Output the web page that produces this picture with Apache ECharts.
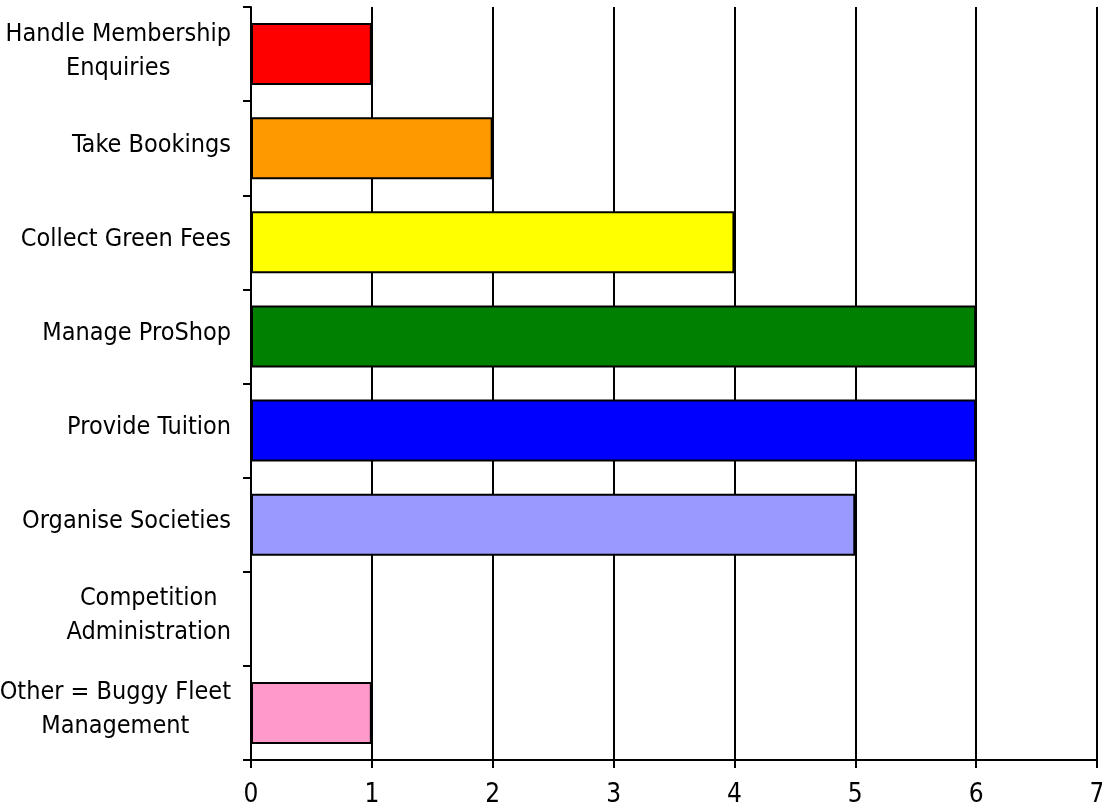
<!DOCTYPE html>
<html>
<head>
<meta charset="utf-8">
<script src="https://cdn.jsdelivr.net/npm/echarts@6/dist/echarts.min.js"></script>
<style>
  html, body { margin: 0; padding: 0; background: #ffffff; }
  #chart { width: 1102px; height: 805px; }
</style>
</head>
<body>
<div id="chart"></div>
<script>
// Activities, top to bottom
const categories = [
  'Handle Membership\nEnquiries',
  'Take Bookings',
  'Collect Green Fees',
  'Manage ProShop',
  'Provide Tuition',
  'Organise Societies',
  'Competition\nAdministration',
  'Other = Buggy Fleet\nManagement'
];
const values = [1, 2, 4, 6, 6, 5, 0, 1];
const barColors = ['#FF0000', '#FF9900', '#FFFF00', '#008000', '#0000FF', '#9999FF', '#FFFFFF', '#FF99CC'];
const xTicks = [0, 1, 2, 3, 4, 5, 6, 7];

const FONT = "'DejaVu Sans Condensed', 'DejaVu Sans', sans-serif";

const chart = echarts.init(document.getElementById('chart'), null, { renderer: 'canvas' });

chart.setOption({
  animation: false,
  backgroundColor: '#ffffff',
  grid: { left: 251, right: 5, top: 7, bottom: 45, containLabel: false, outerBoundsMode: 'none' },
  xAxis: [
    {
      type: 'value',
      min: xTicks[0],
      max: xTicks[xTicks.length - 1],
      interval: 1,
      axisLine: { show: true, lineStyle: { color: '#000', width: 2 } },
      axisTick: { show: true, length: 8, lineStyle: { color: '#000', width: 2 } },
      axisLabel: { color: '#000', fontSize: 26, fontFamily: FONT, margin: 22 },
      splitLine: { show: true, lineStyle: { color: '#000', width: 2 } }
    },
    {
      // inner half of the crossing ticks on the value axis
      type: 'value',
      position: 'bottom',
      min: xTicks[0],
      max: xTicks[xTicks.length - 1],
      interval: 1,
      axisLine: { show: false },
      axisTick: { show: true, inside: true, length: 7, lineStyle: { color: '#000', width: 2 } },
      axisLabel: { show: false },
      splitLine: { show: false }
    }
  ],
  yAxis: {
    type: 'category',
    data: categories,
    inverse: true,
    axisLine: { show: true, lineStyle: { color: '#000', width: 2 } },
    axisTick: { show: true, length: 8, lineStyle: { color: '#000', width: 2 } },
    axisLabel: {
      color: '#000',
      margin: 20,
      align: 'right',
      padding: [0, 0, 6, 0],
      formatter: function (v) {
        return v.split('\n').map(function (l) { return '{c|' + l + '}'; }).join('\n');
      },
      rich: {
        c: { align: 'center', fontSize: 25, lineHeight: 34, fontFamily: FONT, color: '#000' }
      }
    },
    splitLine: { show: false }
  },
  series: [{
    type: 'bar',
    data: values.map(function (v, i) {
      return {
        value: v,
        itemStyle: { color: barColors[i], borderColor: '#000', borderWidth: v === 0 ? 0 : 2 }
      };
    }),
    barCategoryGap: '34%'
  }]
});
</script>
</body>
</html>
